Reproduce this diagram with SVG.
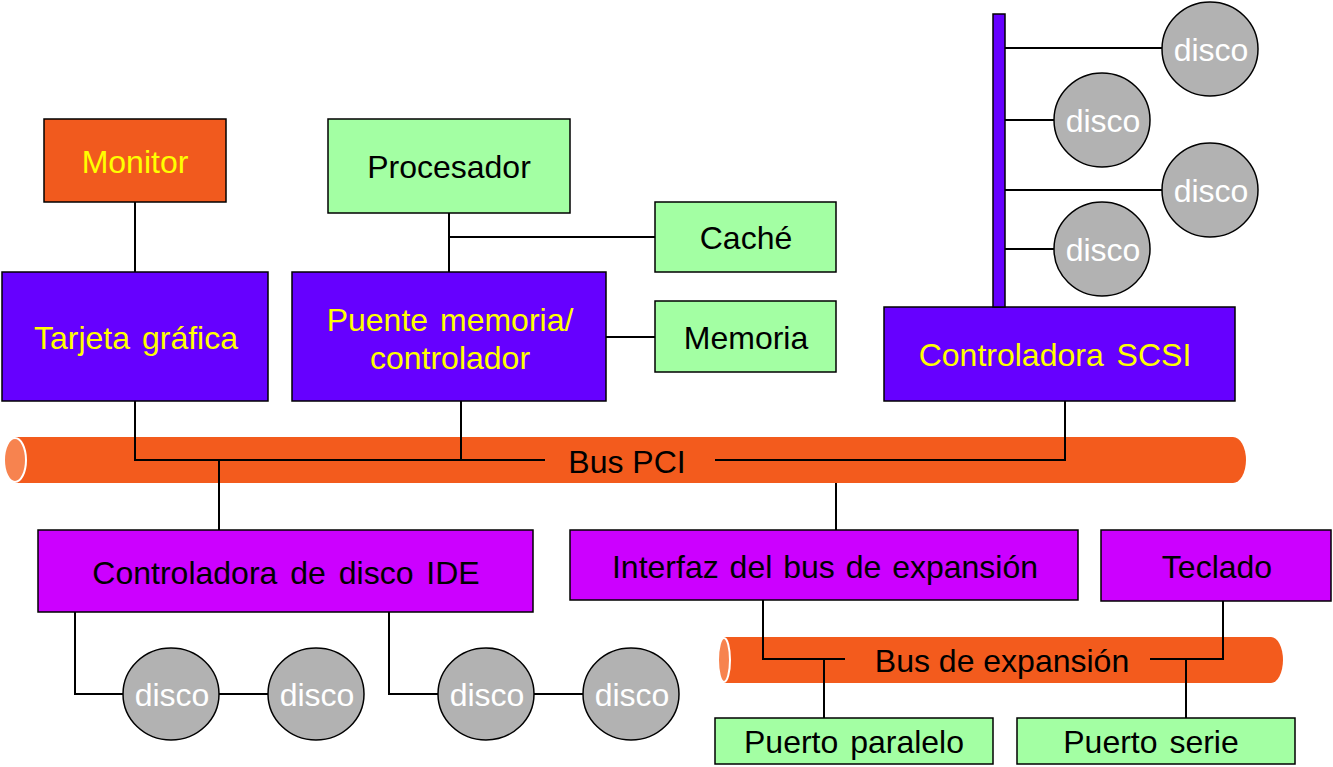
<svg xmlns="http://www.w3.org/2000/svg" width="1333" height="767" viewBox="0 0 1333 767">
<style>
text{font-family:"Liberation Sans",Arial,sans-serif;font-size:32px;text-anchor:middle;dominant-baseline:central}
.y{fill:#FFFF00}.k{fill:#000}.w{fill:#FFFFFF}
.or{fill:#F15A1E;stroke:#000;stroke-width:1.5}
.pu{fill:#6600FF;stroke:#000;stroke-width:1.5}
.mg{fill:#CC00FF;stroke:#000;stroke-width:1.5}
.gr{fill:#A3FFA3;stroke:#000;stroke-width:1.5}
.dk{fill:#B2B2B2;stroke:#000;stroke-width:1.5}
.bus{fill:#F35B1D}
.busend{fill:#F7834F;stroke:#FFFFFF;stroke-width:2}
.ln{fill:none;stroke:#000;stroke-width:2}
</style>
<g id="bus-pci">
<path class="bus" d="M15,437 H1233 A13,23 0 0 1 1233,483 H15 Z"/>
<ellipse class="busend" cx="15" cy="460" rx="11" ry="22"/>
</g>
<g id="bus-exp">
<path class="bus" d="M724,637 H1271 A12,23 0 0 1 1271,683 H724 Z"/>
<ellipse class="busend" cx="724" cy="660" rx="6" ry="22"/>
</g>
<g id="connectors">
<path class="ln" d="M135,202 V272"/>
<path class="ln" d="M449,213 V272 M449,237 H655"/>
<path class="ln" d="M606,337 H655"/>
<path class="ln" d="M135,401 V460 H545 M461,401 V460 M219,460 V530"/>
<path class="ln" d="M715,460 H1065 V401"/>
<path class="ln" d="M836,483 V530"/>
<path class="ln" d="M1005,48 H1162 M1005,120 H1054 M1005,190 H1162 M1005,249 H1054"/>
<path class="ln" d="M75,612 V694 H123 M219,694 H268 M389,612 V694 H438 M534,694 H583"/>
<path class="ln" d="M763,600 V659 H845 M824,659 V718"/>
<path class="ln" d="M1150,659 H1223 V601 M1186,659 V718"/>
</g>
<g id="monitor"><rect class="or" x="44" y="119" width="182" height="83"/><text class="y" x="135" y="162">Monitor</text></g>
<g id="procesador"><rect class="gr" x="328" y="119" width="242" height="94"/><text class="k" x="449" y="167">Procesador</text></g>
<g id="cache"><rect class="gr" x="655" y="202" width="181" height="70"/><text class="k" x="746" y="238">Caché</text></g>
<g id="memoria"><rect class="gr" x="655" y="301" width="181" height="71"/><text class="k" x="746" y="338">Memoria</text></g>
<g id="tarjeta"><rect class="pu" x="2" y="272" width="266" height="129"/><text class="y" x="136" y="338" style="word-spacing:3px">Tarjeta gráfica</text></g>
<g id="puente"><rect class="pu" x="292" y="272" width="314" height="129"/><text class="y" x="450" y="320" style="word-spacing:3px">Puente memoria/</text><text class="y" x="450" y="358">controlador</text></g>
<g id="scsi"><rect class="pu" x="884" y="307" width="351" height="94"/><text class="y" x="1055" y="355" style="word-spacing:4px">Controladora SCSI</text><rect class="pu" x="993" y="14" width="12" height="293"/></g>
<g id="disco-s1"><ellipse class="dk" cx="1210" cy="49" rx="48" ry="47"/><text class="w" x="1211" y="50">disco</text></g>
<g id="disco-s2"><ellipse class="dk" cx="1102" cy="120" rx="48" ry="47"/><text class="w" x="1103" y="121">disco</text></g>
<g id="disco-s3"><ellipse class="dk" cx="1210" cy="190" rx="48" ry="47"/><text class="w" x="1211" y="191">disco</text></g>
<g id="disco-s4"><ellipse class="dk" cx="1102" cy="249" rx="48" ry="47"/><text class="w" x="1103" y="250">disco</text></g>
<g id="buspci-label"><text class="k" x="627" y="462">Bus PCI</text></g>
<g id="ide"><rect class="mg" x="38" y="530" width="495" height="82"/><text class="k" x="286" y="573" style="word-spacing:4px">Controladora de disco IDE</text></g>
<g id="interfaz"><rect class="mg" x="570" y="530" width="508" height="70"/><text class="k" x="825" y="567" style="word-spacing:2px">Interfaz del bus de expansión</text></g>
<g id="teclado"><rect class="mg" x="1101" y="530" width="230" height="71"/><text class="k" x="1217" y="567">Teclado</text></g>
<g id="disco-i1"><ellipse class="dk" cx="171" cy="694" rx="48" ry="46"/><text class="w" x="172" y="695">disco</text></g>
<g id="disco-i2"><ellipse class="dk" cx="316" cy="694" rx="48" ry="46"/><text class="w" x="317" y="695">disco</text></g>
<g id="disco-i3"><ellipse class="dk" cx="486" cy="694" rx="48" ry="46"/><text class="w" x="487" y="695">disco</text></g>
<g id="disco-i4"><ellipse class="dk" cx="631" cy="694" rx="48" ry="46"/><text class="w" x="632" y="695">disco</text></g>
<g id="busexp-label"><text class="k" x="1002" y="661">Bus de expansión</text></g>
<g id="paralelo"><rect class="gr" x="715" y="718" width="278" height="46"/><text class="k" x="854" y="742" style="word-spacing:3px">Puerto paralelo</text></g>
<g id="serie"><rect class="gr" x="1017" y="718" width="278" height="46"/><text class="k" x="1151" y="742" style="word-spacing:3px">Puerto serie</text></g>
</svg>
